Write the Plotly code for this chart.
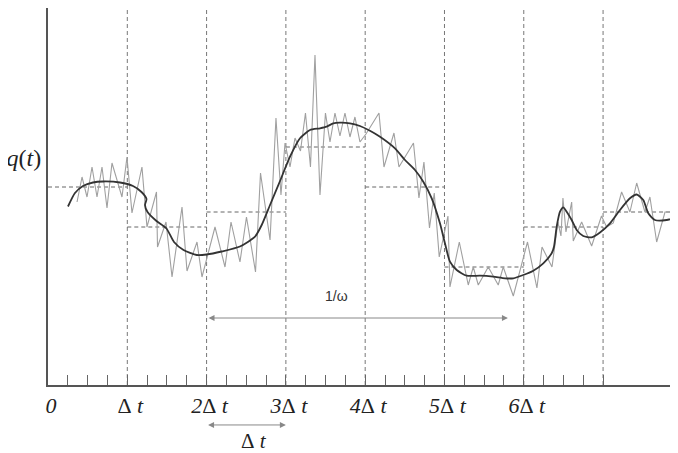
import plotly.graph_objects as go

# --- data (t in units of Δt, q in arbitrary height units) ---
t_noisy = [0.366, 0.429, 0.492, 0.555, 0.618, 0.681, 0.744, 0.807, 0.933, 0.996,
           1.059, 1.185, 1.248, 1.368, 1.381, 1.488, 1.564, 1.690, 1.753, 1.879,
           1.942, 2.106, 2.232, 2.308, 2.421, 2.503, 2.617, 2.680, 2.800, 2.875,
           2.938, 2.989, 3.052, 3.115, 3.184, 3.247, 3.310, 3.367, 3.430, 3.499,
           3.556, 3.619, 3.682, 3.745, 3.808, 3.871, 3.934, 4.010, 4.174, 4.237,
           4.363, 4.426, 4.609, 4.678, 4.741, 4.811, 4.871, 4.934, 5.044, 5.069,
           5.187, 5.300, 5.363, 5.426, 5.552, 5.678, 5.741, 5.868, 6.047, 6.166,
           6.230, 6.356, 6.431, 6.469, 6.494, 6.532, 6.604, 6.624, 6.730, 6.856,
           6.980, 7.045, 7.129, 7.234, 7.339, 7.424, 7.528, 7.591, 7.676, 7.781,
           7.945]
q_noisy = [183, 208, 188, 218, 188, 218, 177, 222, 188, 228,
           172, 218, 158, 193, 138, 163, 108, 178, 114, 143,
           108, 158, 118, 163, 123, 168, 113, 212, 145, 267,
           190, 242, 218, 247, 234, 272, 218, 330, 190, 272,
           243, 272, 249, 272, 248, 268, 243, 251, 272, 218,
           252, 218, 242, 187, 223, 157, 192, 128, 169, 98,
           143, 100, 118, 100, 118, 100, 118, 89, 143, 97,
           138, 118, 163, 149, 187, 153, 183, 144, 163, 139,
           169, 158, 162, 193, 173, 202, 173, 188, 143, 173,
           173]

t_smooth = [0.252, 0.340, 0.441, 0.567, 0.694, 0.908, 1.072, 1.179, 1.242, 1.223,
            1.255, 1.368, 1.494, 1.589, 1.709, 1.875, 2.001, 2.190, 2.421, 2.610,
            2.695, 2.800, 2.926, 3.052, 3.178, 3.304, 3.430, 3.514, 3.598, 3.682,
            3.808, 3.934, 4.060, 4.187, 4.376, 4.502, 4.628, 4.733, 4.839, 4.943,
            5.006, 5.069, 5.154, 5.280, 5.448, 5.615, 5.763, 5.868, 5.994, 6.120,
            6.246, 6.352, 6.381, 6.415, 6.457, 6.498, 6.541, 6.604, 6.667, 6.750,
            6.856, 6.961, 7.087, 7.213, 7.339, 7.424, 7.507, 7.570, 7.654, 7.802,
            7.945]
q_smooth = [178.5, 192, 199, 202.5, 203.5, 202.5, 199, 193, 186, 180,
            173, 164, 156.5, 143, 135, 130, 130.5, 133.5, 138.5, 148.3,
            160, 180, 204, 228.3, 246.7, 255, 256.7, 258.3, 261.7, 262.3,
            261.7, 259, 254.3, 248.3, 236.7, 225, 215, 203.3, 186.7, 161.7,
            141.7, 123.3, 115, 109.3, 109.3, 108.3, 106.7, 106.7, 110, 114.3,
            121.7, 131.7, 138.3, 158.3, 173.3, 177.7, 173.3, 165, 155, 149,
            147.7, 152.5, 161.7, 175, 186.7, 190.5, 185, 171.7, 165, 165,
            168.3]

step_edges = [0, 1, 2, 3, 4, 5, 6, 7, 7.945]
step_levels = [198, 158, 173, 238, 198, 118, 158, 173]
grid_t = [1, 2, 3, 4, 5, 6, 7]
tick_vals = [0, 1, 2, 3, 4, 5, 6, 7]
tick_text = ["<i>0</i>", "Δ<i> t</i>", "<i>2</i>Δ<i> t</i>", "<i>3</i>Δ<i> t</i>",
             "<i>4</i>Δ<i> t</i>", "<i>5</i>Δ<i> t</i>", "<i>6</i>Δ<i> t</i>", ""]
minor_vals = [0.25, 0.5, 0.75, 1.25, 1.5, 1.75, 2.25, 2.5, 2.75, 3.25, 3.5, 3.75,
              4.25, 4.5, 4.75, 5.25, 5.5, 5.75, 6.25, 6.5, 6.75]
q_label_pos = 227
omega_arrow = (2.005, 5.80, 67)
dt_arrow = (2.0, 3.0)

X_MAX = 7.945
Y_MAX = 377

fig = go.Figure()

# horizontal dashed step averages
sx, sy = [], []
for i, lvl in enumerate(step_levels):
    sx += [step_edges[i], step_edges[i + 1], None]
    sy += [lvl, lvl, None]
fig.add_trace(go.Scatter(x=sx, y=sy, mode="lines",
                         line=dict(color="#666", width=1, dash="4px,3px"),
                         hoverinfo="skip", showlegend=False))

# vertical dashed lines
for g in grid_t:
    fig.add_shape(type="line", xref="x", yref="y", x0=g, x1=g, y0=0, y1=Y_MAX,
                  line=dict(color="#777", width=1, dash="4px,3px"), layer="below")

fig.add_trace(go.Scatter(x=t_noisy, y=q_noisy, mode="lines",
                         line=dict(color="#a0a0a0", width=1.1),
                         hoverinfo="skip", showlegend=False))
fig.add_trace(go.Scatter(x=t_smooth, y=q_smooth, mode="lines",
                         line=dict(color="#333", width=1.8, shape="spline", smoothing=0.6),
                         hoverinfo="skip", showlegend=False))

serif = "Liberation Serif, Times New Roman, serif"

# 1/omega arrow and label
fig.add_annotation(x=omega_arrow[1], y=omega_arrow[2], ax=omega_arrow[0], ay=omega_arrow[2],
                   xref="x", yref="y", axref="x", ayref="y", text="", showarrow=True,
                   arrowhead=2, arrowside="end+start", arrowsize=1.2, arrowwidth=1,
                   arrowcolor="#888", standoff=0, startstandoff=0)
fig.add_annotation(x=3.644, y=89, xref="x", yref="y", text="1/ω", showarrow=False,
                   font=dict(family="Liberation Sans, Arial, sans-serif", size=14, color="#333"))

# Δt arrow below the axis (paper y so it is not hidden off-range)
fig.add_annotation(x=dt_arrow[1], y=-0.106, ax=dt_arrow[0], ay=0,
                   xref="x", yref="paper", axref="x", ayref="pixel", text="", showarrow=True,
                   arrowhead=2, arrowside="end+start", arrowsize=1.2, arrowwidth=1,
                   arrowcolor="#888", standoff=0, startstandoff=0)
fig.add_annotation(x=2.60, y=-0.1485, xref="x", yref="paper", yanchor="middle",
                   text="Δ<i> t</i>", showarrow=False, borderpad=0,
                   font=dict(family=serif, size=21, color="#222"))

# the page places the figure 8px from the window's top-left corner
fig.update_layout(
    width=670, height=445,
    margin=dict(l=40, r=0, t=0, b=68, autoexpand=False),
    paper_bgcolor="white", plot_bgcolor="white",
    showlegend=False,
    xaxis=dict(range=[0, X_MAX], showgrid=False, zeroline=False, automargin=False,
               showline=True, linecolor="#555", linewidth=2,
               tickmode="array", tickvals=tick_vals, ticktext=tick_text,
               ticks="inside", ticklen=10, tickcolor="#666", tickwidth=1,
               ticklabelshift=3,
               tickfont=dict(family=serif, size=22, color="#222"),
               minor=dict(tickvals=minor_vals, ticks="inside", ticklen=10,
                          tickcolor="#666", tickwidth=1, showgrid=False)),
    yaxis=dict(range=[0, Y_MAX], showgrid=False, zeroline=False, automargin=False,
               showline=True, linecolor="#555", linewidth=2,
               tickmode="array", tickvals=[q_label_pos],
               ticktext=["<i>q</i>(<i>t</i>)"], ticks="",
               tickfont=dict(family=serif, size=24, color="#222")),
)

fig.write_html("out.html")
